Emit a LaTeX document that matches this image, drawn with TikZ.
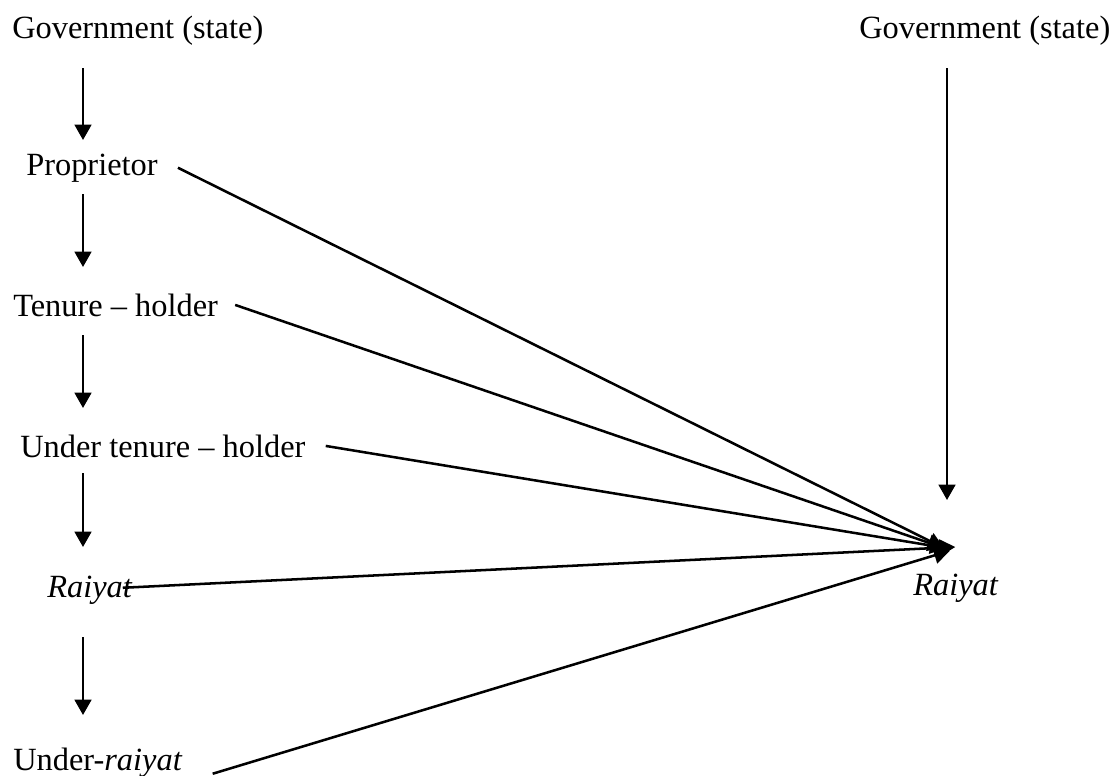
\documentclass[tikz,border=0pt]{standalone}
\usepackage{fontspec}
\setmainfont{Liberation Serif}
\usetikzlibrary{arrows.meta}

\begin{document}
\begin{tikzpicture}[
    x=0.75pt, y=-0.75pt,
    level/.style={anchor=base west, inner sep=0pt, font=\fontsize{24.3pt}{29pt}\selectfont},
    down/.style={-{Triangle[length=11.5pt, width=12.5pt]}, line width=1.9pt},
    link/.style={-{Triangle[length=12pt, width=12.5pt]}, line width=1.9pt}
]
    \useasboundingbox (0,0) rectangle (1113,775);

    % Left chain (top to bottom)
    \node[level] (govL) at (12,38) {Government (state)};
    \node[level] (prop) at (26,175) {Proprietor};
    \node[level] (tenure) at (13,316) {Tenure -- holder};
    \node[level] (under) at (20,457) {Under tenure -- holder};
    \node[level] (raiyatL) at (47,597) {\textit{Raiyat}};
    \node[level] (underR) at (13,770) {Under-\textit{raiyat}};

    % Right column
    \node[level] (govR) at (859,38) {Government (state)};
    \node[level] (raiyatR) at (913,595) {\textit{Raiyat}};

    \coordinate (colL) at (83,0);
    \coordinate (colR) at (947,0);
    \coordinate (hub) at (946,548);

    % Vertical arrows
    \draw[down] ([yshift=-22.5pt]govL.base -| colL) -- ([yshift=26.25pt]prop.base -| colL);
    \draw[down] ([yshift=-14.25pt]prop.base -| colL) -- ([yshift=36.75pt]tenure.base -| colL);
    \draw[down] ([yshift=-14.25pt]tenure.base -| colL) -- ([yshift=36.75pt]under.base -| colL);
    \draw[down] ([yshift=-12pt]under.base -| colL) -- ([yshift=37.5pt]raiyatL.base -| colL);
    \draw[down] ([yshift=-30pt]raiyatL.base -| colL) -- ([yshift=41.25pt]underR.base -| colL);
    \draw[down] ([yshift=-22.5pt]govR.base -| colR) -- ([yshift=71.25pt]raiyatR.base -| colR);

    % Links to the right Raiyat
    \draw[link] ([xshift=15pt]prop.east) -- ([xshift=-1.5pt]hub);
    \draw[link] ([xshift=12.75pt]tenure.east) -- ([xshift=-1.5pt]hub);
    \draw[link] ([xshift=15pt]under.east) -- (hub);
    \draw[link] ([xshift=-7.5pt, yshift=1.5pt]raiyatL.east) -- ([xshift=7pt, yshift=0.75pt]hub);
    \draw[link] ([xshift=22.5pt, yshift=-8.6pt]underR.east) -- ([xshift=3pt, yshift=-2pt]hub);
\end{tikzpicture}
\end{document}
